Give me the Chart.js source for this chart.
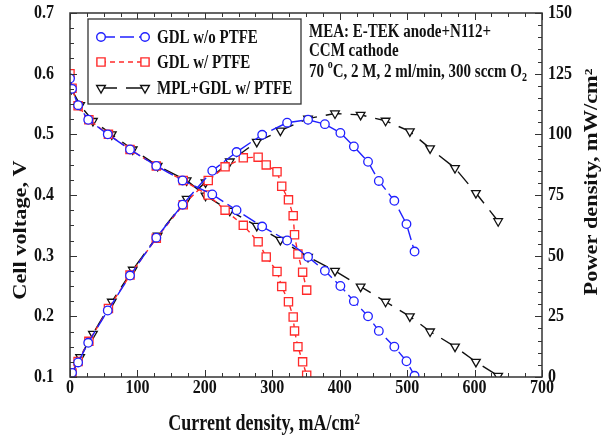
<!DOCTYPE html>
<html>
<head>
<meta charset="utf-8">
<script src="https://cdn.jsdelivr.net/npm/chart.js@4.4.1/dist/chart.umd.min.js"></script>
<style>
  html, body { margin: 0; padding: 0; background: #fff; }
</style>
</head>
<body>
<canvas id="chart" width="604" height="437"></canvas>
<script>
// GDL w/o PTFE
const blueCurrent = [0, 3, 12, 27, 56, 89, 128, 167, 211, 247, 285, 322, 353, 378, 401, 421, 442, 458, 481, 499, 511];
const blueVoltage = [0.592, 0.575, 0.548, 0.524, 0.500, 0.475, 0.448, 0.424, 0.401, 0.375, 0.348, 0.325, 0.298, 0.275, 0.250, 0.225, 0.200, 0.176, 0.150, 0.126, 0.102];
const bluePower = [0, 1.7, 6.0, 14.1, 27.4, 41.8, 57.4, 71.0, 85.0, 92.7, 99.8, 104.8, 106.0, 104.2, 100.6, 95.0, 88.7, 80.8, 72.6, 63.0, 51.7];

// GDL w/ PTFE
const redCurrent = [0, 3, 12, 28, 57, 89, 128, 168, 205, 230, 257, 279, 291, 307, 314, 324, 331, 333, 338, 345, 351];
const redVoltage = [0.600, 0.576, 0.547, 0.524, 0.500, 0.475, 0.448, 0.424, 0.400, 0.375, 0.350, 0.323, 0.298, 0.274, 0.249, 0.224, 0.199, 0.176, 0.150, 0.125, 0.103];
const redPower = [0, 1.6, 6.4, 14.7, 28.2, 42.0, 57.2, 71.0, 81.0, 86.6, 90.3, 90.6, 87.4, 84.6, 78.6, 73.0, 66.5, 58.6, 50.7, 43.2, 35.8];

// MPL+GDL w/ PTFE
const blackCurrent = [2, 15, 34, 62, 93, 130, 173, 201, 237, 277, 312, 353, 393, 431, 468, 504, 534, 571, 602, 635];
const blackVoltage = [0.575, 0.548, 0.522, 0.500, 0.475, 0.448, 0.424, 0.399, 0.374, 0.349, 0.326, 0.298, 0.275, 0.249, 0.224, 0.200, 0.175, 0.150, 0.125, 0.102];
const blackPower = [1.2, 8.2, 17.8, 31.0, 44.2, 58.2, 73.4, 80.2, 88.8, 96.9, 101.5, 106.5, 108.6, 108.0, 105.6, 101.2, 94.2, 86.1, 75.8, 64.2];

const seriesNames = ["GDL w/o PTFE", "GDL w/ PTFE", "MPL+GDL w/ PTFE"];
const xTicks = [0, 100, 200, 300, 400, 500, 600, 700];
const voltageTicks = [0.1, 0.2, 0.3, 0.4, 0.5, 0.6, 0.7];
const powerTicks = [0, 25, 50, 75, 100, 125, 150];
const noteLines = ["MEA: E-TEK anode+N112+", "CCM cathode"];

const SERIF = "'Liberation Serif', 'DejaVu Serif', serif";
const BLUE = "#2020ff";
const RED = "#ff2a2a";
const BLACK = "#111111";
const STRETCH = 1.24; // the source figure is stretched vertically

function pairs(xs, ys) {
  return xs.map((x, i) => ({ x: x, y: ys[i] }));
}

function series(label, xs, ys, axis, color, style, radius, dash, rot) {
  return {
    label: label,
    data: pairs(xs, ys),
    yAxisID: axis,
    borderColor: color,
    borderWidth: 1.4,
    borderDash: dash,
    pointStyle: style,
    pointRotation: rot || 0,
    pointRadius: radius,
    pointBorderWidth: 1.3,
    pointBorderColor: color,
    pointBackgroundColor: "#fff",
    tension: 0,
    fill: false
  };
}

const datasets = [
  series(seriesNames[0], blueCurrent, blueVoltage, "y", BLUE, "circle", 4.3, [14, 5]),
  series(seriesNames[0], blueCurrent, bluePower, "y2", BLUE, "circle", 4.3, [14, 5]),
  series(seriesNames[1], redCurrent, redVoltage, "y", RED, "rect", 5.8, [5, 4]),
  series(seriesNames[1], redCurrent, redPower, "y2", RED, "rect", 5.8, [5, 4]),
  series(seriesNames[2], blackCurrent, blackVoltage, "y", BLACK, "triangle", 5, [16, 9], 180),
  series(seriesNames[2], blackCurrent, blackPower, "y2", BLACK, "triangle", 5, [16, 9], 180)
];

function txt(ctx, s, x, y, align, base, rotated) {
  ctx.save();
  ctx.translate(x, y);
  if (rotated) {
    ctx.rotate(-Math.PI / 2);
    ctx.scale(STRETCH, 1);
  } else {
    ctx.scale(1, STRETCH);
  }
  ctx.textAlign = align;
  ctx.textBaseline = base;
  ctx.fillText(s, 0, 0);
  ctx.restore();
}

// frame, inward ticks, labels, legend box, note text
const decorations = {
  id: "decorations",
  afterDraw(chart) {
    const ctx = chart.ctx;
    const a = chart.chartArea;
    const sx = chart.scales.x, sy = chart.scales.y, sp = chart.scales.y2;
    ctx.save();
    ctx.strokeStyle = "#333";
    ctx.lineWidth = 1.5;
    ctx.setLineDash([]);
    ctx.strokeRect(a.left, a.top, a.right - a.left, a.bottom - a.top);

    ctx.lineWidth = 1;
    ctx.beginPath();
    for (let i = 0; i <= 28; i++) {
      const px = Math.round(sx.getPixelForValue(i * 25)) + 0.5;
      const len = i % 4 === 0 ? 7 : 4;
      ctx.moveTo(px, a.bottom); ctx.lineTo(px, a.bottom - len);
      ctx.moveTo(px, a.top); ctx.lineTo(px, a.top + len);
    }
    for (let i = 0; i <= 24; i++) {
      const py = Math.round(sy.getPixelForValue(0.1 + i * 0.025)) + 0.5;
      const len = i % 4 === 0 ? 7 : 4;
      ctx.moveTo(a.left, py); ctx.lineTo(a.left + len, py);
    }
    for (let i = 0; i <= 30; i++) {
      const py = Math.round(sp.getPixelForValue(i * 5)) + 0.5;
      const len = i % 5 === 0 ? 7 : 4;
      ctx.moveTo(a.right, py); ctx.lineTo(a.right - len, py);
    }
    ctx.stroke();

    // tick labels
    ctx.fillStyle = "#111";
    ctx.font = "bold 16px " + SERIF;
    xTicks.forEach(v => txt(ctx, String(v), sx.getPixelForValue(v), 388, "center", "middle"));
    voltageTicks.forEach(v => txt(ctx, v.toFixed(1), 54, sy.getPixelForValue(v), "right", "middle"));
    powerTicks.forEach(v => txt(ctx, String(v), 548, sp.getPixelForValue(v), "left", "middle"));

    // axis titles
    ctx.font = "bold 18px " + SERIF;
    txt(ctx, "Current density, mA/cm\u00b2", 264, 424, "center", "middle");
    txt(ctx, "Cell voltage, V", 21, 230, "center", "middle", true);
    txt(ctx, "Power density, mW/cm\u00b2", 592, 182, "center", "middle", true);

    // legend box
    const lx = 88, ly = 19, lw = 213, lh = 85;
    ctx.fillStyle = "#fff";
    ctx.fillRect(lx, ly, lw, lh);
    ctx.strokeStyle = "#333";
    ctx.lineWidth = 1.3;
    ctx.strokeRect(lx, ly, lw, lh);
    const rows = [37, 62, 88];
    ctx.font = "bold 15px " + SERIF;
    for (let k = 0; k < 3; k++) {
      const ds = chart.data.datasets[k * 2];
      const y = rows[k];
      ctx.strokeStyle = ds.borderColor;
      ctx.lineWidth = ds.borderWidth;
      ctx.setLineDash(ds.borderDash);
      ctx.beginPath();
      ctx.moveTo(101, y); ctx.lineTo(145, y);
      ctx.stroke();
      ctx.setLineDash([]);
      ctx.fillStyle = "#fff";
      [101, 145].forEach(px => {
        Chart.helpers.drawPoint(ctx, {
          pointStyle: ds.pointStyle, radius: ds.pointRadius, rotation: ds.pointRotation,
          borderWidth: ds.pointBorderWidth
        }, px, y);
      });
      ctx.fillStyle = "#111";
      txt(ctx, ds.label, 157, y + 1, "left", "middle");
    }

    // condition note
    ctx.fillStyle = "#111";
    ctx.font = "bold 15px " + SERIF;
    txt(ctx, noteLines[0], 309, 32, "left", "middle");
    txt(ctx, noteLines[1], 309, 51, "left", "middle");
    let tx = 309;
    const ty = 72;
    txt(ctx, "70 ", tx, ty, "left", "middle"); tx += ctx.measureText("70 ").width;
    ctx.font = "bold 10px " + SERIF;
    txt(ctx, "o", tx, ty - 7, "left", "middle"); tx += ctx.measureText("o").width;
    ctx.font = "bold 15px " + SERIF;
    const mid = "C, 2 M, 2 ml/min, 300 sccm O";
    txt(ctx, mid, tx, ty, "left", "middle"); tx += ctx.measureText(mid).width;
    ctx.font = "bold 10px " + SERIF;
    txt(ctx, "2", tx, ty + 6, "left", "middle");
    ctx.restore();
  }
};

new Chart(document.getElementById("chart").getContext("2d"), {
  type: "line",
  data: { datasets: datasets },
  options: {
    responsive: false,
    animation: false,
    layout: { padding: { top: 13, left: 0, right: 0, bottom: 0 } },
    plugins: { legend: { display: false }, tooltip: { enabled: false } },
    scales: {
      x: {
        type: "linear",
        min: 0, max: 700,
        afterFit: s => { s.height = 60; },
        grid: { display: false, drawTicks: false },
        border: { display: false },
        ticks: { display: false }
      },
      y: {
        type: "linear",
        position: "left",
        min: 0.1, max: 0.7,
        afterFit: s => { s.width = 70; },
        grid: { display: false, drawTicks: false },
        border: { display: false },
        ticks: { display: false }
      },
      y2: {
        type: "linear",
        position: "right",
        min: 0, max: 150,
        afterFit: s => { s.width = 62; },
        grid: { display: false, drawTicks: false },
        border: { display: false },
        ticks: { display: false }
      }
    }
  },
  plugins: [decorations]
});
</script>
</body>
</html>
